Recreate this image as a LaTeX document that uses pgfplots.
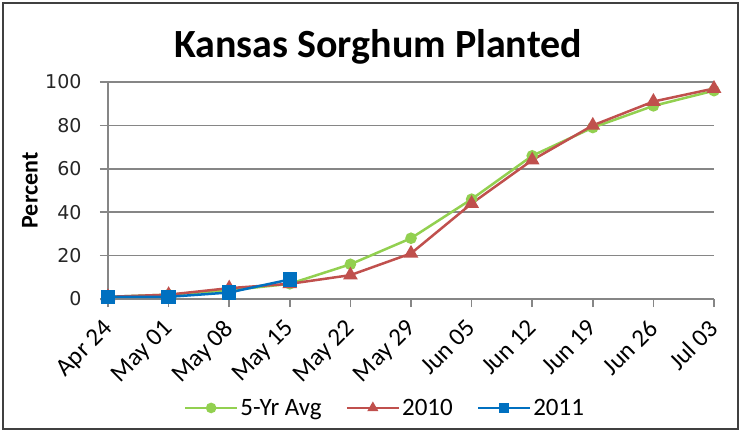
\documentclass[border=0pt]{standalone}
\usepackage{pgfplots}
\pgfplotsset{compat=1.18}
\usepackage{fontspec}
\setmainfont{Carlito}
\newfontfamily\dejavu{DejaVu Sans}
\definecolor{cgreen}{HTML}{92D050}
\definecolor{cred}{HTML}{C0504D}
\definecolor{cblue}{HTML}{0070C0}
\definecolor{cgrid}{HTML}{868686}
\begin{document}
\begin{tikzpicture}[x=1pt,y=1pt]
\useasboundingbox (-108,-133) rectangle (633,299);
\draw[line width=2pt, black!75] (-105,-130) rectangle (630,296);
\node[anchor=base, font=\fontsize{40}{44}\selectfont\bfseries] at (270,242) {Kansas Sorghum Planted};
\begin{axis}[
  at={(0pt,0pt)}, anchor=south west,
  scale only axis, width=606pt, height=217pt,
  xmin=0, xmax=10, ymin=0, ymax=100,
  axis x line=bottom, axis y line=left,
  axis line style={-, cgrid, line width=1.5pt},
  xtick={0,...,10},
  xticklabels={Apr 24,May 01,May 08,May 15,May 22,May 29,Jun 05,Jun 12,Jun 19,Jun 26,Jul 03},
  ytick={0,20,...,100},
  ymajorgrids, grid style={cgrid, line width=1.5pt},
  tick align=outside, major tick length=8pt,
  tick style={cgrid, line width=1.5pt},
  /pgf/number format/assume math mode=true,
  yticklabel style={font=\dejavu\fontsize{19}{22}\selectfont, xshift=-15pt, text=black!85},
  xticklabel style={font=\fontsize{25}{28}\selectfont, rotate=45, anchor=north east, yshift=0pt, xshift=-9pt},
  ylabel={Percent},
  ylabel style={font=\fontsize{24}{26}\selectfont\bfseries, at={(axis description cs:-0.129,0.5)}, anchor=center, rotate=0},
  legend style={at={(0.457,-0.502)}, anchor=center, draw=none, fill=none,
    font=\fontsize{25}{28}\selectfont, legend columns=3,
    /tikz/every even column/.append style={column sep=22pt}},
  legend image code/.code={\draw[mark repeat=2,mark phase=2, mark size=4pt] plot coordinates {(0pt,0pt) (26pt,0pt) (52pt,0pt)};},
  clip=false,
]
\addplot[cgreen, line width=2.5pt, mark=*, mark size=4.5pt] coordinates {
(0,1) (1,2) (2,4) (3,7) (4,16) (5,28) (6,46) (7,66) (8,79) (9,89) (10,96)};
\addlegendentry{5-Yr Avg}
\addplot[cred, line width=2.5pt, mark=triangle*, mark size=6pt] coordinates {
(0,1) (1,2) (2,5) (3,7) (4,11) (5,21) (6,44) (7,64) (8,80) (9,91) (10,97)};
\addlegendentry{2010}
\addplot[cblue, line width=2.5pt, mark=square*, mark size=6pt] coordinates {
(0,1) (1,1) (2,3) (3,9)};
\addlegendentry{2011}
\end{axis}
\end{tikzpicture}
\end{document}
